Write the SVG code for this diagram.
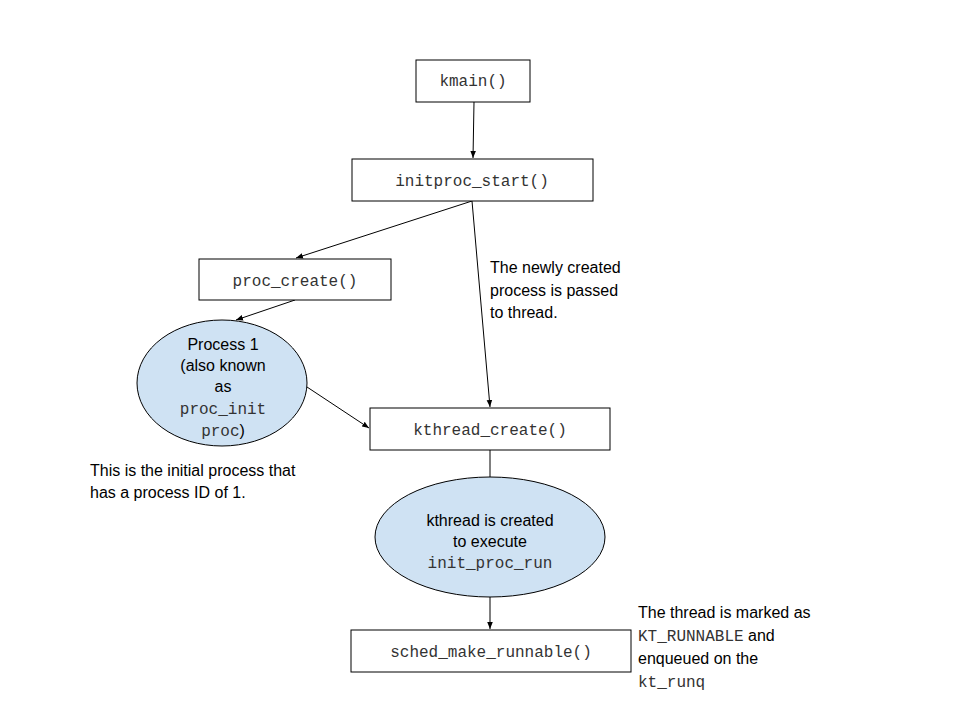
<svg xmlns="http://www.w3.org/2000/svg" width="960" height="720" viewBox="0 0 960 720">
<style>
.box{fill:#fff;stroke:#000;stroke-width:1}
.ell{fill:#cfe2f3;stroke:#000;stroke-width:1}
.m{font-family:"Liberation Mono",monospace;font-size:16px;fill:#333}
.s{font-family:"Liberation Sans",Arial,sans-serif;font-size:16px;fill:#000}
.c{stroke:#000;stroke-width:1;fill:none;marker-end:url(#a)}
</style>
<defs><marker id="a" viewBox="0 0 10 10" refX="10" refY="5" markerWidth="7" markerHeight="7" orient="auto"><path d="M0,1 L10,5 L0,9 z" fill="#000"/></marker></defs>
<rect width="960" height="720" fill="#fff"/>
<g id="connectors">
<line class="c" x1="474" y1="102" x2="473" y2="158"/>
<line class="c" x1="472" y1="201" x2="296" y2="258"/>
<line class="c" x1="472" y1="201" x2="490" y2="407"/>
<line class="c" x1="295" y1="300" x2="236" y2="320"/>
<line class="c" x1="307" y1="387" x2="369" y2="428"/>
<line class="c" x1="490" y1="450" x2="490" y2="485"/>
<line class="c" x1="490" y1="597" x2="490" y2="629"/>
</g>
<g id="kmain"><rect class="box" x="416" y="60" width="114" height="42"/><text class="m" x="473" y="86" text-anchor="middle">kmain()</text></g>
<g id="initproc_start"><rect class="box" x="352" y="159" width="241" height="42"/><text class="m" x="472" y="186" text-anchor="middle">initproc_start()</text></g>
<g id="proc_create"><rect class="box" x="199" y="259" width="192" height="41"/><text class="m" x="295" y="286" text-anchor="middle">proc_create()</text></g>
<g id="kthread_create"><rect class="box" x="370" y="408" width="240" height="42"/><text class="m" x="490" y="435" text-anchor="middle">kthread_create()</text></g>
<g id="sched_make_runnable"><rect class="box" x="351" y="630" width="280" height="42"/><text class="m" x="491" y="657" text-anchor="middle">sched_make_runnable()</text></g>
<g id="process1"><ellipse class="ell" cx="222" cy="383" rx="85" ry="63"/>
<text class="s" x="223" y="350" text-anchor="middle">Process 1</text>
<text class="s" x="223" y="371" text-anchor="middle">(also known</text>
<text class="s" x="223" y="392" text-anchor="middle">as</text>
<text class="m" x="223" y="414" text-anchor="middle">proc_init</text>
<text x="223" y="436" text-anchor="middle"><tspan class="m">proc</tspan><tspan class="s">)</tspan></text></g>
<g id="kthread"><ellipse class="ell" cx="490" cy="537" rx="115" ry="60"/>
<text class="s" x="490" y="526" text-anchor="middle" font-size="15">kthread is created</text>
<text class="s" x="490" y="547" text-anchor="middle" font-size="15">to execute</text>
<text class="m" x="490" y="568" text-anchor="middle" font-size="15">init_proc_run</text></g>
<g id="notes">
<text class="s" x="490" y="273">The newly created</text>
<text class="s" x="490" y="296">process is passed</text>
<text class="s" x="490" y="318">to thread.</text>
<text class="s" x="90" y="476">This is the initial process that</text>
<text class="s" x="90" y="498">has a process ID of 1.</text>
<text class="s" x="638" y="618">The thread is marked as</text>
<text x="638" y="641"><tspan class="m">KT_RUNNABLE</tspan><tspan class="s"> and</tspan></text>
<text class="s" x="638" y="664">enqueued on the</text>
<text class="m" x="638" y="687">kt_runq</text>
</g>
</svg>
